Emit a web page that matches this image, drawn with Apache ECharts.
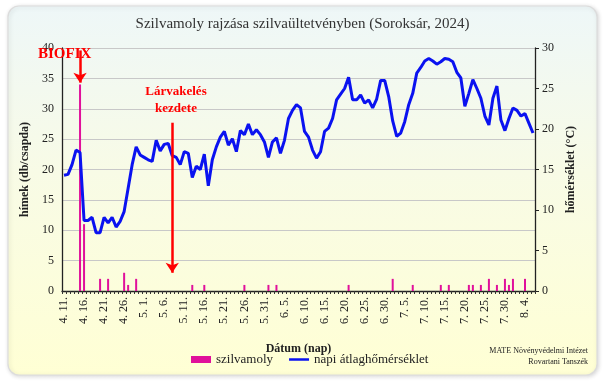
<!DOCTYPE html>
<html>
<head>
<meta charset="utf-8">
<script src="https://cdn.jsdelivr.net/npm/echarts@6/dist/echarts.min.js"></script>
<style>html,body{margin:0;padding:0;background:#fff}#c{width:605px;height:384px}</style>
</head>
<body>
<div id="c"></div>
<script>
// Dates (month, first day, last day) -> categories "M. D."
const monthSpans = [[4, 11, 30], [5, 1, 31], [6, 1, 30], [7, 1, 31], [8, 1, 6]];
const categories = [];
monthSpans.forEach(function (m) { for (let d = m[1]; d <= m[2]; d++) categories.push(m[0] + '. ' + d + '.'); });

// daily mean temperature (°C), 4.11 – 8.6
const temperature = [
  14.3, 14.4, 15.6, 17.4, 17.1, 8.7, 8.7, 9.1, 7.2, 7.2,
  9.1, 8.4, 9.1, 7.9, 8.6, 9.8, 12.7, 15.6, 17.8, 16.8,
  16.5, 16.2, 16.0, 18.6, 17.3, 18.1, 18.2, 16.7, 16.5, 15.6,
  17.2, 17.0, 14.0, 15.4, 15.0, 16.9, 13.0, 16.2, 17.8, 19.0,
  19.7, 18.0, 18.8, 17.2, 19.8, 19.3, 20.6, 19.3, 19.9, 19.3,
  18.4, 16.5, 18.4, 18.9, 17.0, 18.6, 21.3, 22.3, 23.0, 22.6,
  19.7, 19.0, 17.4, 16.4, 17.2, 19.7, 20.1, 21.3, 23.6, 24.3,
  25.0, 26.4, 23.6, 23.6, 24.2, 23.2, 23.6, 22.6, 23.7, 26.0,
  26.0, 24.0, 21.0, 19.1, 19.5, 20.9, 23.0, 24.4, 26.9, 27.6,
  28.4, 28.7, 28.4, 28.0, 28.3, 28.7, 28.6, 28.3, 27.0, 26.3,
  22.8, 24.4, 26.1, 25.0, 23.8, 21.6, 20.5, 23.8, 25.3, 21.1,
  19.8, 21.3, 22.6, 22.3, 21.6, 21.9, 20.7, 19.5
];

// moth catches (males / trap)
const mothDays = ['4. 15.', '4. 16.', '4. 20.', '4. 22.', '4. 26.', '4. 27.', '4. 29.', '5. 13.', '5. 16.', '5. 26.',
  '6. 1.', '6. 3.', '6. 21.', '7. 2.', '7. 7.', '7. 14.', '7. 16.', '7. 21.', '7. 22.', '7. 24.',
  '7. 26.', '7. 28.', '7. 30.', '7. 31.', '8. 1.', '8. 4.'];
const mothCounts = [34, 11, 2, 2, 3, 1, 2, 1, 1, 1,
  1, 1, 1, 2, 1, 1, 1, 1, 1, 1,
  2, 1, 2, 1, 2, 2];

const leftTicks = { min: 0, max: 40, interval: 5 };
const rightTicks = { min: 0, max: 30, interval: 5 };

const biofixDay = '4. 15.';
const larvaDay = '5. 8.';

const F = '"Liberation Serif", "DejaVu Serif", serif';
const mothData = mothDays.map(function (d, i) { return [d, mothCounts[i]]; });

const chart = echarts.init(document.getElementById('c'), null, { renderer: 'canvas' });
chart.setOption({
  backgroundColor: '#ffffff',
  animation: false,
  textStyle: { fontFamily: F },
  graphic: [
    {
      type: 'rect', z: -10, silent: true,
      shape: { x: 8, y: 6, width: 589, height: 369, r: 11 },
      style: {
        fill: new echarts.graphic.LinearGradient(0, 0, 0, 1, [
          { offset: 0, color: '#eef7f8' },
          { offset: 0.45, color: '#f8fbe6' },
          { offset: 1, color: '#ffffd4' }
        ]),
        stroke: '#dcdcdc', lineWidth: 1.2,
        shadowBlur: 4, shadowColor: 'rgba(0,0,0,0.15)', shadowOffsetX: 1, shadowOffsetY: 1
      }
    },
    { type: 'text', x: 38, y: 47, z: 10, style: { text: 'BIOFIX', fill: '#ff0000', font: 'bold 15px ' + F } },
    { type: 'text', x: 176, y: 83, z: 10, style: { text: 'Lárvakelés\nkezdete', fill: '#ff0000', font: 'bold 13px ' + F, align: 'center', lineHeight: 17 } },
    { type: 'text', right: 17, top: 347, z: 10, style: { text: 'MATE Növényvédelmi Intézet', fill: '#222', font: '8px ' + F, textAlign: 'right' } },
    { type: 'text', right: 17, top: 358, z: 10, style: { text: 'Rovartani Tanszék', fill: '#222', font: '8px ' + F, textAlign: 'right' } }
  ],
  title: {
    text: 'Szilvamoly rajzása szilvaültetvényben (Soroksár, 2024)',
    left: 'center', top: 12,
    textStyle: { fontFamily: F, fontSize: 15, fontWeight: 'normal', color: '#333' }
  },
  legend: {
    left: 186, top: 348,
    itemWidth: 20, itemHeight: 7, itemGap: 16,
    textStyle: { fontFamily: F, fontSize: 13, color: '#222' },
    data: [
      { name: 'szilvamoly', icon: 'rect' },
      { name: 'napi átlaghőmérséklet', icon: 'path://M0,0 L40,0 L40,5 L0,5 Z', itemStyle: { color: '#0a12f0' } }
    ]
  },
  grid: { left: 62, right: 70, top: 48, bottom: 93 },
  xAxis: {
    type: 'category',
    data: categories,
    boundaryGap: true,
    name: 'Dátum (nap)',
    nameLocation: 'middle',
    nameGap: 52,
    nameTextStyle: { fontFamily: F, fontSize: 12, fontWeight: 'bold', color: '#222' },
    axisLine: { lineStyle: { color: '#222', width: 1.3 } },
    axisTick: { show: true, interval: 0, length: 3, lineStyle: { color: '#333' } },
    axisLabel: { interval: 4, rotate: 90, fontFamily: F, fontSize: 12, color: '#222', margin: 6 },
    splitLine: { show: false }
  },
  yAxis: [
    {
      type: 'value', min: leftTicks.min, max: leftTicks.max, interval: leftTicks.interval,
      name: 'hímek (db/csapda)', nameLocation: 'middle', nameGap: 28, nameRotate: 90,
      nameTextStyle: { fontFamily: F, fontSize: 12, fontWeight: 'bold', color: '#222' },
      axisLine: { show: true, lineStyle: { color: '#222', width: 1.3 } },
      axisTick: { show: false },
      axisLabel: { fontFamily: F, fontSize: 12, color: '#222', margin: 8 },
      splitLine: { show: true, lineStyle: { color: '#c8c8c8', width: 1.2 } }
    },
    {
      type: 'value', position: 'right', min: rightTicks.min, max: rightTicks.max, interval: rightTicks.interval,
      name: 'hőmérséklet (°C)', nameLocation: 'middle', nameGap: 30, nameRotate: 90,
      nameTextStyle: { fontFamily: F, fontSize: 12, fontWeight: 'bold', color: '#222' },
      axisLine: { show: true, lineStyle: { color: '#222', width: 1.3 } },
      axisTick: { show: true, length: 4, lineStyle: { color: '#222' } },
      axisLabel: { fontFamily: F, fontSize: 12, color: '#222', margin: 7 },
      splitLine: { show: false }
    }
  ],
  series: [
    {
      name: 'szilvamoly',
      type: 'bar',
      yAxisIndex: 0,
      barWidth: 2,
      itemStyle: { color: '#e0109b' },
      data: mothData,
      z: 2,
      markLine: {
        silent: true,
        symbol: ['none', 'arrow'],
        symbolSize: 10,
        label: { show: false },
        lineStyle: { color: '#ff0000', width: 2.5, type: 'solid' },
        data: [
          [{ coord: [biofixDay, 39.6] }, { coord: [biofixDay, 34.3] }],
          [{ coord: [larvaDay, 27.7] }, { coord: [larvaDay, 3.0] }]
        ]
      }
    },
    {
      name: 'napi átlaghőmérséklet',
      type: 'line',
      yAxisIndex: 1,
      data: temperature,
      symbol: 'none',
      smooth: false,
      lineStyle: { color: '#0a12f0', width: 3 },
      itemStyle: { color: '#0a12f0' },
      z: 3
    }
  ]
});
</script>
</body>
</html>
